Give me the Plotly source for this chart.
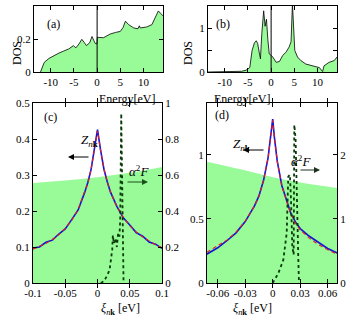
import plotly.graph_objects as go

# ---- (a) DOS, metal ----
dos_a_energy = [-12.2, -11.4, -10.4, -9.3, -8.2, -7.2, -6.1, -5.1, -4.6, -3.9, -3.3, -2.8, -2.3,
                -1.6, -1.1, -0.7, -0.4, -0.05, 0.05, 1.4, 2.8, 4.0, 5.0, 5.6, 6.1, 6.8, 7.9,
                8.8, 9.1, 9.3, 10.7, 11.8, 12.5, 13.2, 13.7, 14.2]
dos_a = [0.0, 0.058, 0.082, 0.1, 0.115, 0.127, 0.14, 0.16, 0.146, 0.17, 0.198, 0.18, 0.16,
         0.177, 0.215, 0.19, 0.173, 0.17, 0.21, 0.208, 0.23, 0.24, 0.246, 0.27, 0.308, 0.287,
         0.267, 0.262, 0.28, 0.267, 0.273, 0.287, 0.33, 0.37, 0.355, 0.34]

# ---- (b) DOS, second material ----
dos_b_energy = [-13.6, -7.2, -6.4, -5.4, -4.6, -4.1, -3.6, -3.2, -2.9, -2.5, -2.3, -2.0, -1.6,
                -1.3, -1.0, -0.7, -0.4, 0.0, 0.36, 1.1, 1.8, 2.5, 3.2, 3.9, 4.3, 4.6, 4.9,
                5.1, 5.7, 6.4, 7.5, 9.3, 10.4, 11.1, 11.4, 12.5, 13.6, 14.2]
dos_b = [0.0, 0.0, 0.016, 0.04, 0.1, 0.49, 0.66, 0.71, 0.65, 0.41, 0.3, 0.88, 1.39,
         1.04, 1.2, 0.73, 0.41, 0.38, 0.34, 0.22, 0.24, 0.375, 0.45, 0.57, 0.69, 1.55, 0.88,
         0.49, 0.34, 0.26, 0.18, 0.14, 0.1, 0.01, 0.14, 0.22, 0.26, 0.34]

# ---- (c) ----
xi_c = [-0.1, -0.09, -0.08, -0.07, -0.06, -0.05, -0.04, -0.03, -0.02, -0.015, -0.01, -0.005, 0.0,
        0.005, 0.01, 0.015, 0.02, 0.03, 0.04, 0.05, 0.06, 0.07, 0.08, 0.09, 0.1]
z_c_red = [0.094, 0.102, 0.11, 0.121, 0.134, 0.152, 0.174, 0.205, 0.25, 0.278, 0.315, 0.366, 0.423,
           0.366, 0.317, 0.281, 0.254, 0.212, 0.182, 0.159, 0.142, 0.128, 0.116, 0.106, 0.098]
z_c_blue = [0.097, 0.1, 0.113, 0.119, 0.136, 0.15, 0.176, 0.203, 0.251, 0.279, 0.315, 0.367, 0.426,
            0.367, 0.316, 0.282, 0.253, 0.213, 0.181, 0.161, 0.14, 0.13, 0.114, 0.108, 0.096]
fill_c_x = [-0.1, -0.05, 0.0, 0.05, 0.1]
fill_c = [0.278, 0.285, 0.294, 0.306, 0.322]
a2f_c_x = [0.005, 0.01, 0.014, 0.0187, 0.0228, 0.0238, 0.0254, 0.028, 0.030, 0.032, 0.034,
           0.0352, 0.0368, 0.0383, 0.0394, 0.0404]
a2f_c = [0.0, 0.01, 0.035, 0.072, 0.184, 0.266, 0.22, 0.248, 0.2, 0.276, 0.258,
         0.35, 0.942, 0.59, 0.072, 0.0]

# ---- (d) ----
xi_d = [-0.072, -0.06, -0.05, -0.04, -0.03, -0.025, -0.02, -0.015, -0.01, -0.005, -0.002, 0.0,
        0.002, 0.005, 0.01, 0.015, 0.02, 0.025, 0.03, 0.04, 0.05, 0.06, 0.072]
z_d_red = [0.24, 0.29, 0.335, 0.397, 0.484, 0.54, 0.6, 0.68, 0.8, 0.98, 1.15, 1.27,
           1.13, 0.95, 0.76, 0.645, 0.535, 0.465, 0.415, 0.35, 0.3, 0.26, 0.22]
z_d_blue = [0.225, 0.275, 0.33, 0.392, 0.48, 0.54, 0.6, 0.68, 0.8, 0.98, 1.15, 1.28,
            1.13, 0.95, 0.76, 0.645, 0.54, 0.475, 0.425, 0.365, 0.315, 0.27, 0.23]
fill_d_x = [-0.072, -0.035, 0.0, 0.035, 0.072]
fill_d = [0.948, 0.888, 0.826, 0.779, 0.74]
a2f_d_x = [0.0, 0.0061, 0.0116, 0.0153, 0.017, 0.0188, 0.02, 0.0214, 0.0229, 0.0236, 0.025,
           0.0262, 0.028, 0.0287]
a2f_d = [0.0, 0.15, 0.36, 0.78, 1.66, 1.69, 1.3, 0.57, 0.44, 2.47, 2.25,
         1.3, 0.36, 0.0]

GREEN = 'rgb(152,251,152)'
FONT = 'Liberation Serif, Times New Roman, serif'
W, H = 350, 320

fig = go.Figure()

# top panels
fig.add_trace(go.Scatter(x=dos_a_energy, y=dos_a, mode='lines', fill='tozeroy',
                         fillcolor=GREEN, line=dict(color='black', width=0.8),
                         xaxis='x', yaxis='y'))
fig.add_trace(go.Scatter(x=[0, 0], y=[0, 0.4], mode='lines',
                         line=dict(color='black', width=1), xaxis='x', yaxis='y'))
fig.add_trace(go.Scatter(x=dos_b_energy, y=dos_b, mode='lines', fill='tozeroy',
                         fillcolor=GREEN, line=dict(color='black', width=0.8),
                         xaxis='x2', yaxis='y2'))
fig.add_trace(go.Scatter(x=[0, 0], y=[0, 1.52], mode='lines',
                         line=dict(color='black', width=1), xaxis='x2', yaxis='y2'))

# (c)
fig.add_trace(go.Scatter(x=fill_c_x, y=fill_c, mode='lines', fill='tozeroy', fillcolor=GREEN,
                         line=dict(width=0, shape='spline'), xaxis='x3', yaxis='y3'))
fig.add_trace(go.Scatter(x=xi_c, y=z_c_blue, mode='lines',
                         line=dict(color='rgb(20,20,210)', width=1.6), xaxis='x3', yaxis='y3'))
fig.add_trace(go.Scatter(x=xi_c, y=z_c_red, mode='lines',
                         line=dict(color='rgb(230,30,30)', width=1.1, dash='4px,3px'),
                         xaxis='x3', yaxis='y3'))
fig.add_trace(go.Scatter(x=a2f_c_x, y=a2f_c, mode='lines',
                         line=dict(color='rgb(10,60,10)', width=1.8, dash='dot'),
                         xaxis='x3', yaxis='y4'))

# (d)
fig.add_trace(go.Scatter(x=fill_d_x, y=fill_d, mode='lines', fill='tozeroy', fillcolor=GREEN,
                         line=dict(width=0, shape='spline'), xaxis='x4', yaxis='y5'))
fig.add_trace(go.Scatter(x=xi_d, y=z_d_blue, mode='lines',
                         line=dict(color='rgb(20,20,210)', width=1.6), xaxis='x4', yaxis='y5'))
fig.add_trace(go.Scatter(x=xi_d, y=z_d_red, mode='lines',
                         line=dict(color='rgb(230,30,30)', width=1.1, dash='4px,3px'),
                         xaxis='x4', yaxis='y5'))
fig.add_trace(go.Scatter(x=a2f_d_x, y=a2f_d, mode='lines',
                         line=dict(color='rgb(10,60,10)', width=1.8, dash='dot'),
                         xaxis='x4', yaxis='y6'))


def px(v):
    return v / W


def py(v):
    return 1 - v / H


def axis(domain, rng, vals, texts, anchor, **kw):
    d = dict(domain=domain, range=rng, tickvals=vals, ticktext=texts, anchor=anchor,
             showline=True, linecolor='black', linewidth=1, ticks='inside', ticklen=4,
             tickcolor='black', showgrid=False, zeroline=False, automargin=False,
             tickfont=dict(family=FONT, size=11, color='black'))
    d.update(kw)
    return d


e_ticks = [-10, -5, 0, 5, 10]
e_text = ['-10', '-5', '0', '5', '10']

fig.update_layout(
    width=W, height=H, margin=dict(l=0, r=0, t=0, b=0, autoexpand=False),
    plot_bgcolor='white', paper_bgcolor='white', showlegend=False,
    font=dict(family=FONT, size=11, color='black'),
    xaxis=axis([px(34), px(163)], [-13.6, 14.2], e_ticks, e_text, 'y', mirror='allticks'),
    yaxis=axis([py(72), py(6)], [0, 0.4], [0, 0.2, 0.4], ['0', '0.2', '0.4'], 'x',
               mirror='allticks'),
    xaxis2=axis([px(208), px(337)], [-13.6, 14.2], e_ticks, e_text, 'y2', mirror='allticks'),
    yaxis2=axis([py(72), py(6)], [0, 1.5], [0, 0.5, 1], ['0', '', '1'], 'x2',
                mirror='allticks'),
    xaxis3=axis([px(33), px(162)], [-0.1, 0.1], [-0.1, -0.05, 0, 0.05, 0.1],
                ['-0.1', '-0.05', '0', '0.05', '0.1'], 'y3', mirror='allticks'),
    yaxis3=axis([py(283), py(103)], [0, 0.5], [0, 0.1, 0.2, 0.3, 0.4, 0.5],
                ['0', '0.1', '0.2', '0.3', '0.4', '0.5'], 'x3'),
    yaxis4=axis([py(283), py(103)], [0, 1], [0, 0.2, 0.4, 0.6, 0.8, 1],
                ['0', '0.2', '0.4', '0.6', '0.8', '1'], 'x3', overlaying='y3', side='right'),
    xaxis4=axis([px(207), px(337)], [-0.0717, 0.0702], [-0.06, -0.03, 0, 0.03, 0.06],
                ['-0.06', '-0.03', '0', '0.03', '0.06'], 'y5', mirror='allticks'),
    yaxis5=axis([py(283), py(103)], [0, 1.406], [0, 0.5, 1], ['0', '0.5', '1'], 'x4'),
    yaxis6=axis([py(283), py(103)], [0, 2.81], [0, 1, 2], ['0', '1', '2'], 'x4',
                overlaying='y5', side='right'),
)

Z_LABEL = '<i>Z</i><sub><i>n</i><b>k</b></sub>'
A2F_LABEL = '<i>α</i><sup>2</sup><i>F</i>'
XI_LABEL = '<i>ξ</i><sub><i>n</i><b>k</b></sub> [eV]'


def text(t, x, y, size=12, **kw):
    fig.add_annotation(text=t, x=px(x), y=py(y), xref='paper', yref='paper',
                       showarrow=False, font=dict(family=FONT, size=size, color='black'), **kw)


def arrow(x0, x1, y, color):
    # arrow with the head at x1
    fig.add_annotation(text='', x=px(x1), y=py(y), xref='paper', yref='paper',
                       ax=x0 - x1, ay=0, showarrow=True, arrowhead=2, arrowsize=1,
                       arrowwidth=1.2, arrowcolor=color)


text('(a)', 45, 15)
text('(b)', 223, 15)
text('(c)', 42, 117)
text('(d)', 222, 115)
text('Energy[eV]', 97, 90)
text('Energy[eV]', 272, 90)
text('DOS', 8, 39, textangle=-90)
text('DOS', 188, 39, textangle=-90)
text(XI_LABEL, 100, 300, yanchor='top', borderpad=0)
text(XI_LABEL, 273, 300, yanchor='top', borderpad=0)
text(Z_LABEL, 79, 140, size=13)
text(Z_LABEL, 253, 144, size=13)
text(A2F_LABEL, 139, 171, size=13)
text(A2F_LABEL, 313, 161, size=13)
arrow(90, 68, 157, 'black')
arrow(265, 243, 150, 'black')
arrow(126, 148, 182, 'rgb(30,80,30)')
arrow(299, 320, 170, 'rgb(30,50,30)')

# the page body has a default 8px margin; drop it so the figure sits at the corner
fig.write_html("out.html", config={'displayModeBar': False},
               post_script="document.body.style.margin='0';")
